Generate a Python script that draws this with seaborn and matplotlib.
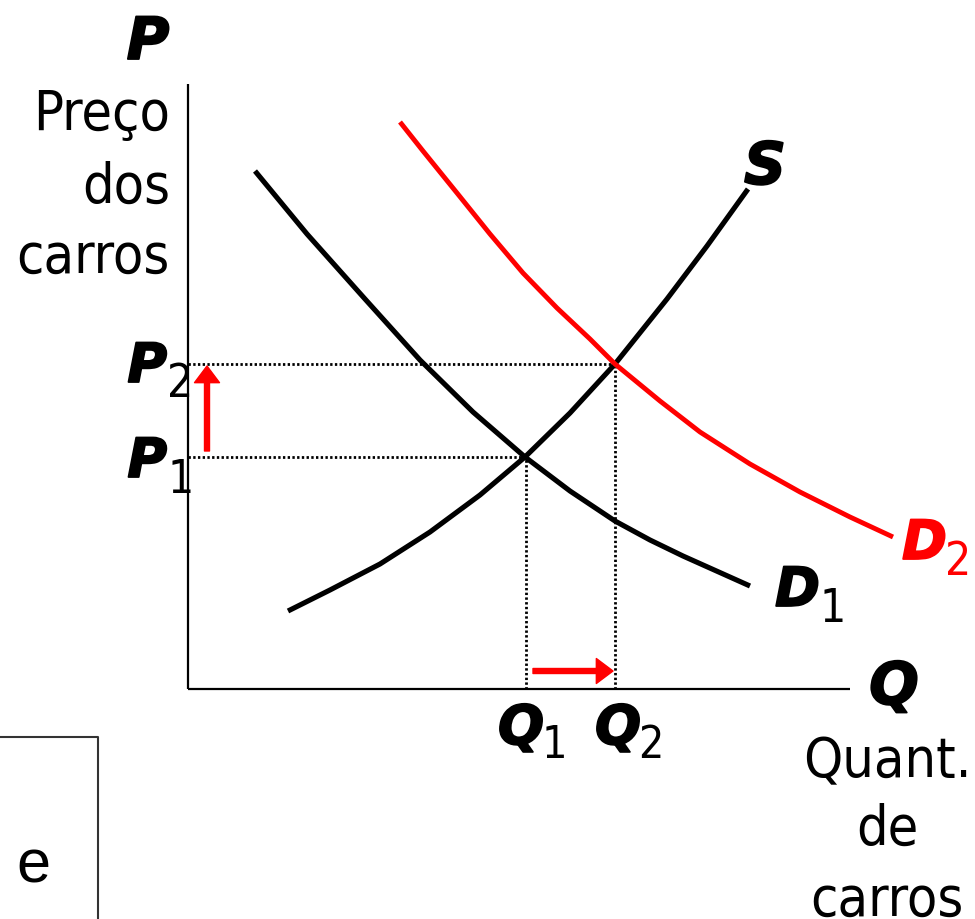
import matplotlib
matplotlib.use("Agg")
import matplotlib.pyplot as plt
import matplotlib.patheffects as pe
import seaborn as sns

# values (q, p in axis units)
d1_q = [6.7, 11.9, 17.7, 23.2, 28.5, 33.7, 38.2, 42.7, 46.2, 49.5, 56.2]
d1_p = [51.8, 45.5, 39.0, 32.9, 27.7, 23.2, 19.8, 16.8, 14.9, 13.3, 10.3]
s_q = [10.0, 14.2, 19.2, 24.2, 29.2, 33.7, 38.2, 42.7, 47.9, 51.9, 56.0]
s_p = [7.8, 9.9, 12.5, 15.7, 19.4, 23.2, 27.6, 32.5, 39.0, 44.3, 50.0]
d2_q = [21.2, 23.5, 26.9, 30.2, 33.5, 36.9, 40.2, 42.7, 47.2, 51.2, 56.2, 61.2, 66.2, 70.5]
d2_p = [56.7, 53.8, 49.6, 45.5, 41.6, 38.1, 35.0, 32.5, 28.8, 25.7, 22.5, 19.7, 17.2, 15.2]
q1, p1 = 33.8, 23.2
q2, p2 = 42.7, 32.5
q_axis_max, p_axis_max = 66.2, 60.5

sns.set_theme(style="white")
plt.rcParams["font.family"] = ["DejaVu Sans"]
plt.rcParams["text.color"] = "black"

fig = plt.figure(figsize=(9.75, 9.2), dpi=100)
ax = fig.add_axes([0, 0, 1, 1])
ax.set_xlim(-18.8, 78.7)
ax.set_ylim(-23.0, 69.0)
ax.axis("off")

# axes of the diagram
ax.plot([0, q_axis_max], [0, 0], color="black", lw=1.6, solid_capstyle="butt")
ax.plot([0, 0], [0, p_axis_max], color="black", lw=1.6, solid_capstyle="butt")

# dotted guides
dot = dict(color="black", lw=2.0, linestyle=(0, (0.85, 0.85)))
ax.plot([0, q1], [p1, p1], **dot)
ax.plot([0, q2], [p2, p2], **dot)
ax.plot([q1, q1], [0, p1], **dot)
ax.plot([q2, q2], [0, p2], **dot)

# curves
sns.lineplot(x=d1_q, y=d1_p, ax=ax, color="black", lw=3.7, sort=False, estimator=None,
             solid_capstyle="butt", solid_joinstyle="round")
sns.lineplot(x=s_q, y=s_p, ax=ax, color="black", lw=3.7, sort=False, estimator=None,
             solid_capstyle="butt", solid_joinstyle="round")
sns.lineplot(x=d2_q, y=d2_p, ax=ax, color="#ff0000", lw=3.5, sort=False, estimator=None,
             solid_capstyle="butt", solid_joinstyle="round")

# red shift arrows
arrow = dict(color="#ff0000", width=3.6, headwidth=18, headlength=12, shrink=0)
ax.annotate("", xy=(1.9, p2 - 0.2), xytext=(1.9, p1 + 0.6), arrowprops=arrow)
ax.annotate("", xy=(q2 - 0.2, 1.8), xytext=(q1 + 0.7, 1.8), arrowprops=arrow)

heavy = [pe.withStroke(linewidth=1.3, foreground="black")]
heavy_red = [pe.withStroke(linewidth=1.3, foreground="#ff0000")]
bold = dict(family="DejaVu Sans", weight="bold", style="oblique", va="baseline")
reg = dict(family="DejaVu Sans", stretch="condensed", va="baseline")

ax.text(-4.0, 63.0, "P", ha="center", fontsize=42, path_effects=heavy, **bold)
ax.text(-1.8, 56.0, "Preço", ha="right", fontsize=40, **reg)
ax.text(-1.8, 48.7, "dos", ha="right", fontsize=40, **reg)
ax.text(-1.8, 41.7, "carros", ha="right", fontsize=40, **reg)

ax.text(-2.1, p2 - 1.8, "P", ha="right", fontsize=39, path_effects=heavy, **bold)
ax.text(-2.1, p2 - 3.2, "2", ha="left", fontsize=33, **reg)
ax.text(-2.1, p1 - 2.0, "P", ha="right", fontsize=39, path_effects=heavy, **bold)
ax.text(-2.0, p1 - 3.5, "1", ha="left", fontsize=33, **reg)

ax.text(q1 - 0.5, -5.5, "Q", ha="center", fontsize=39, path_effects=heavy, **bold)
ax.text(q1 + 1.6, -6.8, "1", ha="left", fontsize=32, **reg)
ax.text(q2 + 0.3, -5.5, "Q", ha="center", fontsize=39, path_effects=heavy, **bold)
ax.text(q2 + 2.3, -6.8, "2", ha="left", fontsize=32, **reg)

ax.text(70.6, -1.5, "Q", ha="center", fontsize=42, path_effects=heavy, **bold)
ax.text(69.9, -8.7, "Quant.", ha="center", fontsize=40, **reg)
ax.text(69.9, -15.5, "de", ha="center", fontsize=40, **reg)
ax.text(69.9, -22.6, "carros", ha="center", fontsize=40, **reg)

ax.text(57.7, 50.5, "S", ha="center", fontsize=42, path_effects=heavy, **bold)
ax.text(58.7, 8.3, "D", ha="left", fontsize=39, path_effects=heavy, **bold)
ax.text(63.2, 6.8, "1", ha="left", fontsize=33, **reg)
ax.text(71.4, 13.0, "D", ha="left", fontsize=39, color="#ff0000", path_effects=heavy_red, **bold)
ax.text(75.7, 11.5, "2", ha="left", fontsize=33, color="#ff0000", **reg)

# cut-off box at lower left
ax.plot([-19.5, -9.0, -9.0], [-4.8, -4.8, -24.0], color="#333333", lw=1.5)
ax.text(-17.2, -19.3, "e", ha="left", va="baseline", fontsize=44, family="Liberation Sans")

fig.savefig("out.png", dpi=100)
